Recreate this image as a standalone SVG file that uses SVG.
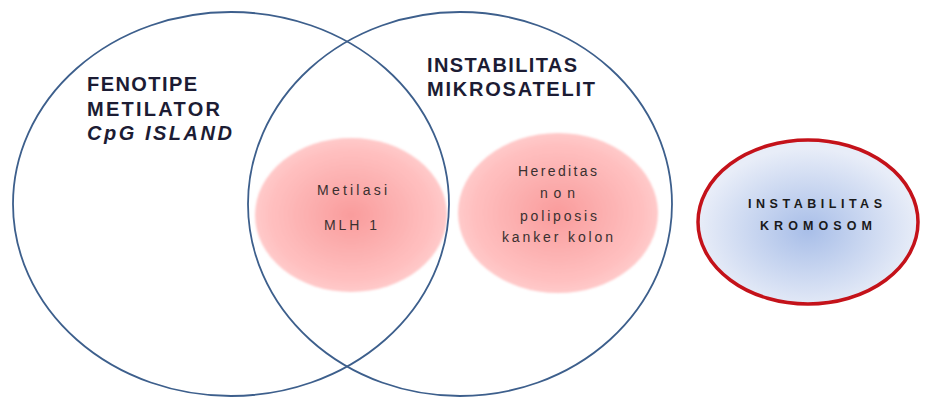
<svg xmlns="http://www.w3.org/2000/svg" width="927" height="397" viewBox="0 0 927 397">
  <defs>
    <radialGradient id="pinkGrad" cx="50%" cy="50%" r="50%">
      <stop offset="0" stop-color="#F99C9C"/>
      <stop offset="0.85" stop-color="#FFC0C0"/>
      <stop offset="1" stop-color="#FFCACA"/>
    </radialGradient>
    <radialGradient id="blueGrad" cx="50%" cy="55%" r="50%">
      <stop offset="0" stop-color="#A8BEE8"/>
      <stop offset="1" stop-color="#E8EDF8"/>
    </radialGradient>
    <filter id="soft" x="-10%" y="-10%" width="120%" height="120%">
      <feGaussianBlur stdDeviation="1.2"/>
    </filter>
  </defs>
  <style>
    .big { fill: none; stroke: #3D5F8C; stroke-width: 1.8; }
    .pink { fill: url(#pinkGrad); filter: url(#soft); }
    .chrom { fill: url(#blueGrad); stroke: #C4121A; stroke-width: 3.5; }
    .head { font-family: "Liberation Sans", Arial, sans-serif; font-weight: bold; font-size: 20px; fill: #1C1C34; }
    .small { font-family: "Liberation Sans", Arial, sans-serif; font-size: 14px; fill: #3A3030; }
    .chromText { font-family: "Liberation Sans", Arial, sans-serif; font-weight: bold; font-size: 12.5px; fill: #1A1A1A; }
  </style>
  <rect width="927" height="397" fill="#FFFFFF"/>

  <g id="metilasi-mlh1">
    <ellipse class="pink" cx="351" cy="215" rx="96" ry="77"/>
    <text class="small" x="317" y="195" textLength="70">Metilasi</text>
    <text class="small" x="324" y="230" textLength="53">MLH 1</text>
  </g>

  <g id="hnpcc">
    <ellipse class="pink" cx="558" cy="213" rx="100" ry="80"/>
    <text class="small" x="518" y="176" textLength="79">Hereditas</text>
    <text class="small" x="540" y="198" textLength="35">non</text>
    <text class="small" x="520" y="221" textLength="77">poliposis</text>
    <text class="small" x="502" y="242" textLength="111">kanker kolon</text>
  </g>

  <g id="fenotipe-metilator">
    <ellipse class="big" cx="231" cy="204" rx="218" ry="192"/>
    <text class="head" x="87" y="91" textLength="110">FENOTIPE</text>
    <text class="head" x="87" y="116" textLength="133">METILATOR</text>
    <text class="head" x="87" y="140" textLength="145" font-style="italic">CpG  ISLAND</text>
  </g>

  <g id="instabilitas-mikrosatelit">
    <ellipse class="big" cx="460" cy="204" rx="212" ry="192"/>
    <text class="head" x="427" y="72" textLength="150">INSTABILITAS</text>
    <text class="head" x="427" y="96" textLength="168">MIKROSATELIT</text>
  </g>

  <g id="instabilitas-kromosom">
    <ellipse class="chrom" cx="808" cy="222" rx="110" ry="82"/>
    <text class="chromText" x="748" y="208" textLength="134">INSTABILITAS</text>
    <text class="chromText" x="760" y="230" textLength="112">KROMOSOM</text>
  </g>

  <g id="connectors"/>
</svg>
